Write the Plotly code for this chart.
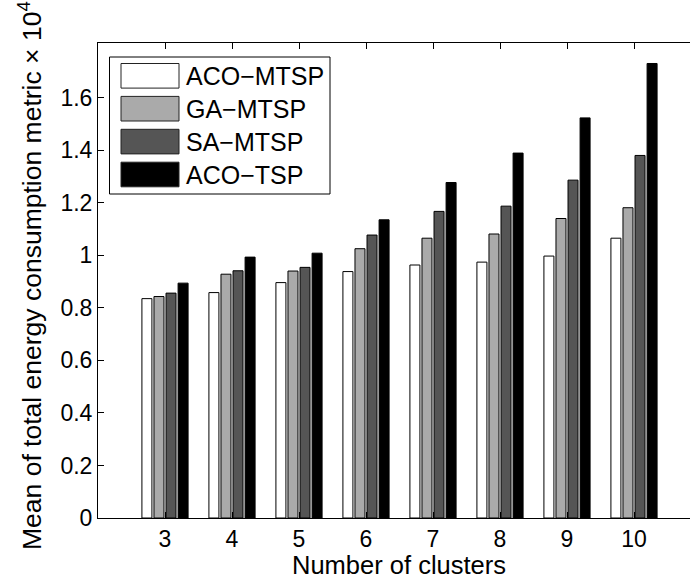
import plotly.graph_objects as go

# ---- data ----
clusters = [3, 4, 5, 6, 7, 8, 9, 10]
series_names = ["ACO\u2212MTSP", "GA\u2212MTSP", "SA\u2212MTSP", "ACO\u2212TSP"]
aco_mtsp = [0.835, 0.858, 0.896, 0.938, 0.963, 0.974, 0.997, 1.065]
ga_mtsp = [0.843, 0.928, 0.940, 1.025, 1.065, 1.081, 1.140, 1.181]
sa_mtsp = [0.856, 0.941, 0.954, 1.077, 1.167, 1.187, 1.286, 1.380]
aco_tsp = [0.894, 0.993, 1.008, 1.135, 1.277, 1.389, 1.523, 1.730]
y_tick_vals = [0, 0.2, 0.4, 0.6, 0.8, 1.0, 1.2, 1.4, 1.6]
y_tick_text = ["0", "0.2", "0.4", "0.6", "0.8", "1", "1.2", "1.4", "1.6"]
x_title = "Number of clusters"
y_title = "Mean of total energy consumption metric \u00d7 10<sup>4</sup>"

series_values = [aco_mtsp, ga_mtsp, sa_mtsp, aco_tsp]
colors = ["#ffffff", "#aaaaaa", "#555555", "#000000"]

FONT = "Liberation Sans, Arial, sans-serif"
W, H = 690, 579
L, R, T, B = 98, 690, 43, 518


def px2x(px):
    return (px - L) / (R - L)


def py2y(py):
    return (B - py) / (B - T)


fig = go.Figure()
for name, vals, col in zip(series_names, series_values, colors):
    fig.add_trace(go.Bar(
        x=clusters, y=vals, name=name,
        marker=dict(color=col, line=dict(color="#000000", width=1)),
        showlegend=False,
    ))

shapes = []
annotations = []
# legend box
shapes.append(dict(type="rect", xref="paper", yref="paper",
                   x0=px2x(109.5), x1=px2x(330), y0=py2y(194), y1=py2y(57),
                   line=dict(color="#000000", width=1), fillcolor="#ffffff", layer="above"))
row_centers = [75.8, 108.7, 141.6, 174.5]
for name, col, cy in zip(series_names, colors, row_centers):
    shapes.append(dict(type="rect", xref="paper", yref="paper",
                       x0=px2x(121), x1=px2x(179), y0=py2y(cy + 12.3), y1=py2y(cy - 12.3),
                       line=dict(color="#222222", width=1), fillcolor=col, layer="above"))
    annotations.append(dict(xref="paper", yref="paper", x=px2x(184), y=py2y(cy),
                            xanchor="left", yanchor="middle", showarrow=False,
                            text=name, font=dict(family=FONT, size=25, color="#000000")))

# axis titles
annotations.append(dict(xref="paper", yref="paper", x=px2x(399), y=py2y(564.5),
                        xanchor="center", yanchor="middle", showarrow=False,
                        text=x_title, font=dict(family=FONT, size=25.5, color="#000000")))
annotations.append(dict(xref="paper", yref="paper", x=px2x(30), y=py2y(276),
                        xanchor="center", yanchor="middle", showarrow=False, textangle=-90,
                        text=y_title, font=dict(family=FONT, size=26.5, color="#000000")))

fig.update_layout(
    width=W, height=H,
    margin=dict(l=L, r=W - R, t=T, b=H - B, pad=0),
    paper_bgcolor="#ffffff", plot_bgcolor="#ffffff",
    barmode="group", bargap=0.28, bargroupgap=0.17,
    font=dict(family=FONT, size=23, color="#000000"),
    shapes=shapes, annotations=annotations,
    xaxis=dict(range=[2, 2 + (R - L) / 67.0], tickvals=clusters,
               ticktext=[str(c) for c in clusters],
               ticks="inside", ticklen=6, tickcolor="#000000", tickwidth=1,
               showline=True, linecolor="#000000", linewidth=1, mirror="ticks",
               showgrid=False, zeroline=False,
               tickfont=dict(family=FONT, size=23, color="#000000")),
    yaxis=dict(range=[0, 1.808], tickvals=y_tick_vals, ticktext=y_tick_text,
               ticks="inside", ticklen=6, tickcolor="#000000", tickwidth=1,
               showline=True, linecolor="#000000", linewidth=1, mirror=False,
               showgrid=False, zeroline=False,
               tickfont=dict(family=FONT, size=23, color="#000000")),
)

fig.write_html("out.html")
